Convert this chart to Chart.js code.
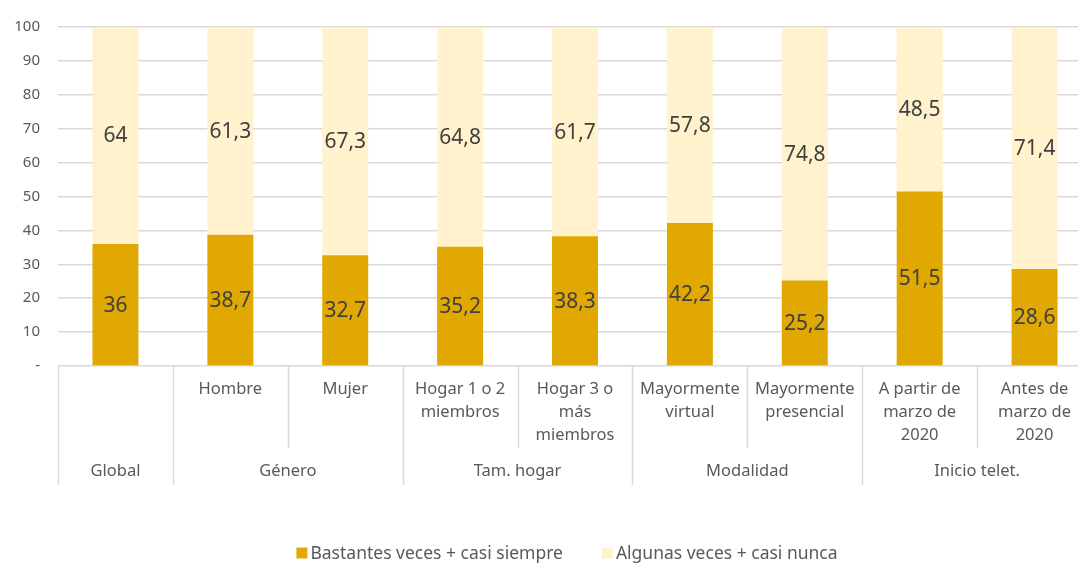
<!DOCTYPE html>
<html>
<head>
<meta charset="utf-8">
<script src="https://cdn.jsdelivr.net/npm/chart.js@4"></script>
<style>
  html, body { margin: 0; padding: 0; background: #fff; overflow: hidden; }
  #wrap { position: relative; width: 1092px; height: 563px; }
</style>
</head>
<body>
<div id="wrap"><canvas id="chart"></canvas></div>
<script>
// Data
const subLabels = [
    [''],
    ['Hombre'],
    ['Mujer'],
    ['Hogar 1 o 2', 'miembros'],
    ['Hogar 3 o', 'más', 'miembros'],
    ['Mayormente', 'virtual'],
    ['Mayormente', 'presencial'],
    ['A partir de', 'marzo de', '2020'],
    ['Antes de', 'marzo de', '2020']
];
const groupLabels = ['Global', 'Género', 'Género', 'Tam. hogar', 'Tam. hogar', 'Modalidad', 'Modalidad', 'Inicio telet.', 'Inicio telet.'];
const bastantes = [36, 38.7, 32.7, 35.2, 38.3, 42.2, 25.2, 51.5, 28.6];
const algunas = [64, 61.3, 67.3, 64.8, 61.7, 57.8, 74.8, 48.5, 71.4];
const seriesNames = ['Bastantes veces + casi siempre', 'Algunas veces + casi nunca'];

const FONT = '"Noto Sans", "Open Sans", sans-serif';
const TEXT = '#595959';
const LINE = '#D9D9D9';

// value labels inside the bars, with comma decimals
const valueLabels = {
    id: 'valueLabels',
    afterDatasetsDraw(chart) {
        const ctx = chart.ctx;
        ctx.save();
        ctx.font = '21px ' + FONT;
        ctx.fillStyle = '#404040';
        ctx.textAlign = 'center';
        ctx.textBaseline = 'middle';
        chart.data.datasets.forEach((ds, di) => {
            chart.getDatasetMeta(di).data.forEach((bar, i) => {
                const txt = String(ds.data[i]).replace('.', ',');
                ctx.fillText(txt, bar.x, (bar.y + bar.base) / 2 + 1);
            });
        });
        ctx.restore();
    }
};

// two-level category axis + legend
const multiAxis = {
    id: 'multiAxis',
    afterDraw(chart) {
        const ctx = chart.ctx;
        const area = chart.chartArea;
        const x = chart.scales.x;
        const n = subLabels.length;
        const half = (x.getPixelForValue(1) - x.getPixelForValue(0)) / 2;
        const bottom = area.bottom;

        ctx.save();
        ctx.strokeStyle = LINE;
        ctx.lineWidth = 1.5;
        for (let i = 0; i <= n; i++) {
            const xb = i < n ? x.getPixelForValue(i) - half : x.getPixelForValue(n - 1) + half;
            const long = i === 0 || i === n || groupLabels[i] !== groupLabels[i - 1];
            ctx.beginPath();
            ctx.moveTo(Math.round(xb) + 0.5, bottom);
            ctx.lineTo(Math.round(xb) + 0.5, bottom + (long ? 119 : 82));
            ctx.stroke();
        }

        ctx.font = '16.5px ' + FONT;
        ctx.fillStyle = TEXT;
        ctx.textAlign = 'center';
        ctx.textBaseline = 'middle';
        subLabels.forEach((lines, i) => {
            const cx = x.getPixelForValue(i);
            lines.forEach((ln, k) => ctx.fillText(ln, cx, bottom + 23 + k * 23));
        });

        let start = 0;
        for (let i = 1; i <= n; i++) {
            if (i === n || groupLabels[i] !== groupLabels[start]) {
                const cx = (x.getPixelForValue(start) + x.getPixelForValue(i - 1)) / 2;
                ctx.fillText(groupLabels[start], cx, bottom + 105);
                start = i;
            }
        }

        // legend
        ctx.font = '17.5px ' + FONT;
        const colors = chart.data.datasets.map(d => d.backgroundColor);
        const box = 11, gap = 3, itemGap = 39;
        const widths = seriesNames.map(s => box + gap + ctx.measureText(s).width);
        const total = widths.reduce((a, b) => a + b, 0) + itemGap;
        let lx = (area.left + area.right) / 2 - 8 - total / 2;
        const ly = 553;
        ctx.textAlign = 'left';
        seriesNames.forEach((s, i) => {
            ctx.fillStyle = colors[i];
            ctx.fillRect(lx, ly - box / 2, box, box);
            ctx.fillStyle = TEXT;
            ctx.fillText(s, lx + box + gap, ly + 1);
            lx += widths[i] + itemGap;
        });
        ctx.restore();
    }
};

new Chart(document.getElementById('chart'), {
    type: 'bar',
    data: {
        labels: subLabels,
        datasets: [{
            label: seriesNames[0],
            data: bastantes,
            backgroundColor: '#E0A800',
            barPercentage: 0.4,
            categoryPercentage: 1
        }, {
            label: seriesNames[1],
            data: algunas,
            backgroundColor: '#FFF2CC',
            barPercentage: 0.4,
            categoryPercentage: 1
        }]
    },
    options: {
        responsive: true,
        maintainAspectRatio: false,
        animation: false,
        layout: {
            padding: { top: 24, bottom: 197, left: 0, right: 0 }
        },
        scales: {
            x: {
                stacked: true,
                display: false
            },
            y: {
                stacked: true,
                min: 0,
                max: 100,
                afterFit(scale) { scale.width = 58; },
                ticks: {
                    stepSize: 10,
                    padding: 18,
                    color: TEXT,
                    font: { family: FONT, size: 15 },
                    callback: v => v === 0 ? '-' : v
                },
                grid: {
                    color: LINE,
                    lineWidth: 1.5,
                    drawTicks: false
                },
                border: { display: false }
            }
        },
        plugins: {
            legend: { display: false },
            tooltip: { enabled: false }
        }
    },
    plugins: [valueLabels, multiAxis]
});
</script>
</body>
</html>
